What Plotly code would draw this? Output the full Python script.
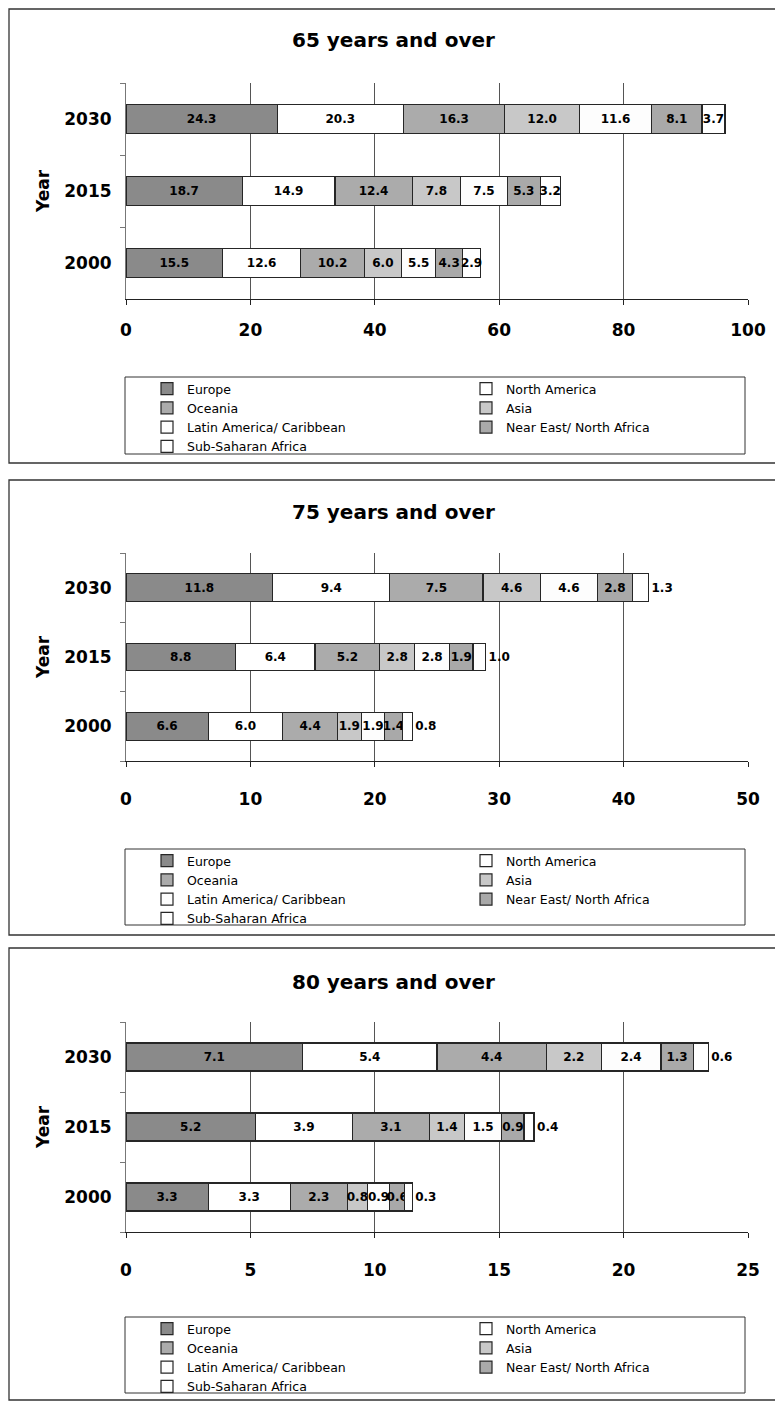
import plotly.graph_objects as go

# ---------------- data ----------------
YEARS = ["2000", "2015", "2030"]
REGIONS = ["Europe", "North America", "Oceania", "Asia",
           "Latin America/ Caribbean", "Near East/ North Africa", "Sub-Saharan Africa"]
COLORS = ["#8a8a8a", "#ffffff", "#ababab", "#c8c8c8", "#fdfdfd", "#a9a9a9", "#ffffff"]

# 65 years and over (percent)
EUROPE_65 = [15.5, 18.7, 24.3]
NAMERICA_65 = [12.6, 14.9, 20.3]
OCEANIA_65 = [10.2, 12.4, 16.3]
ASIA_65 = [6.0, 7.8, 12.0]
LATAM_65 = [5.5, 7.5, 11.6]
NEAREAST_65 = [4.3, 5.3, 8.1]
SSA_65 = [2.9, 3.2, 3.7]

# 75 years and over (percent)
EUROPE_75 = [6.6, 8.8, 11.8]
NAMERICA_75 = [6.0, 6.4, 9.4]
OCEANIA_75 = [4.4, 5.2, 7.5]
ASIA_75 = [1.9, 2.8, 4.6]
LATAM_75 = [1.9, 2.8, 4.6]
NEAREAST_75 = [1.4, 1.9, 2.8]
SSA_75 = [0.8, 1.0, 1.3]

# 80 years and over (percent)
EUROPE_80 = [3.3, 5.2, 7.1]
NAMERICA_80 = [3.3, 3.9, 5.4]
OCEANIA_80 = [2.3, 3.1, 4.4]
ASIA_80 = [0.8, 1.4, 2.2]
LATAM_80 = [0.9, 1.5, 2.4]
NEAREAST_80 = [0.6, 0.9, 1.3]
SSA_80 = [0.3, 0.4, 0.6]

TITLES = ["65 years and over", "75 years and over", "80 years and over"]
X_MAX = [100, 50, 25]
X_DTICK = [20, 10, 5]

# ---------------- layout geometry (page pixels) ----------------
W, H = 783, 1406
OFF = 8          # page body margin
FONT = "DejaVu Sans"


def fy(px):
    return 1 - (px - OFF) / H


def fx(px):
    return (px - OFF) / W


panels = [
    dict(series=[EUROPE_65, NAMERICA_65, OCEANIA_65, ASIA_65, LATAM_65, NEAREAST_65, SSA_65],
         ssa_pos="inside", top=83, bottom=299, box=(9, 463), leg=(377, 454), title_y=40,
         standoff=11),
    dict(series=[EUROPE_75, NAMERICA_75, OCEANIA_75, ASIA_75, LATAM_75, NEAREAST_75, SSA_75],
         ssa_pos="outside", top=553, bottom=761, box=(480, 935), leg=(849, 925), title_y=512,
         standoff=18),
    dict(series=[EUROPE_80, NAMERICA_80, OCEANIA_80, ASIA_80, LATAM_80, NEAREAST_80, SSA_80],
         ssa_pos="outside", top=1022, bottom=1232, box=(948, 1400), leg=(1317, 1393), title_y=982,
         standoff=18),
]

fig = go.Figure()
layout = dict(
    width=W, height=H,
    margin=dict(l=0, r=0, t=0, b=0, autoexpand=False),
    paper_bgcolor="white", plot_bgcolor="white",
    barmode="stack", bargap=0.6,
    font=dict(family=FONT, color="black"),
    uniformtext=dict(mode="show", minsize=12),
    showlegend=True,
)
shapes = []
annotations = []

for i, p in enumerate(panels):
    k = i + 1
    sx = "" if k == 1 else str(k)
    xa, ya = "x" + sx, "y" + sx
    leg = "legend" + sx
    for j, (name, vals, col) in enumerate(zip(REGIONS, p["series"], COLORS)):
        pos = p["ssa_pos"] if j == len(REGIONS) - 1 else "inside"
        fig.add_trace(go.Bar(
            y=YEARS, x=vals, name=name, orientation="h",
            xaxis=xa, yaxis=ya, legend=leg,
            marker=dict(color=col, line=dict(color="#262626", width=1.2)),
            texttemplate="%{x:.1f}", textposition=pos, insidetextanchor="middle",
            textangle=0, cliponaxis=False,
            textfont=dict(family=FONT, size=12, color="black", weight="bold"),
            hovertemplate=name + " %{y}: %{x:.1f}<extra></extra>",
        ))

    layout["xaxis" + sx] = dict(
        domain=[fx(126), fx(748)], anchor=ya,
        range=[0, X_MAX[i]], tick0=0, dtick=X_DTICK[i],
        showgrid=True, gridcolor="#555555", gridwidth=1, zeroline=False,
        showline=True, linecolor="#222222", linewidth=1,
        ticks="outside", ticklen=5, tickcolor="#222222",
        tickfont=dict(family=FONT, size=17, color="black", weight="bold"),
        ticklabelstandoff=p["standoff"],
    )
    layout["yaxis" + sx] = dict(
        domain=[fy(p["bottom"]), fy(p["top"])], anchor=xa,
        type="category", categoryorder="array", categoryarray=YEARS,
        showgrid=False, zeroline=False,
        showline=True, linecolor="#777777", linewidth=1,
        ticks="outside", tickson="boundaries", ticklen=5, tickcolor="#777777",
        tickfont=dict(family=FONT, size=17, color="black", weight="bold"),
        ticklabelstandoff=10,
        title=dict(text="Year", font=dict(family=FONT, size=17, color="black", weight="bold"),
                   standoff=10),
    )
    layout[leg] = dict(
        orientation="h", x=fx(147), xanchor="left", y=fy(p["leg"][0] - 3), yanchor="top",
        bgcolor="rgba(0,0,0,0)", borderwidth=0,
        font=dict(family=FONT, size=12.5, color="black"),
        entrywidth=274, entrywidthmode="pixels", traceorder="normal",
        tracegroupgap=0,
    )
    # panel frame
    shapes.append(dict(type="rect", xref="paper", yref="paper",
                       x0=fx(9), x1=fx(780), y0=fy(p["box"][1]), y1=fy(p["box"][0]),
                       line=dict(color="#333333", width=1.3), layer="below"))
    # legend frame
    shapes.append(dict(type="rect", xref="paper", yref="paper",
                       x0=fx(125), x1=fx(745), y0=fy(p["leg"][1]), y1=fy(p["leg"][0]),
                       line=dict(color="#333333", width=1), layer="below"))
    annotations.append(dict(text=TITLES[i], xref="paper", yref="paper",
                            x=fx(393), y=fy(p["title_y"]), xanchor="center", yanchor="middle",
                            showarrow=False,
                            font=dict(family=FONT, size=20, color="black", weight="bold")))

layout["shapes"] = shapes
layout["annotations"] = annotations
fig.update_layout(**layout)
fig.write_html("out.html")
